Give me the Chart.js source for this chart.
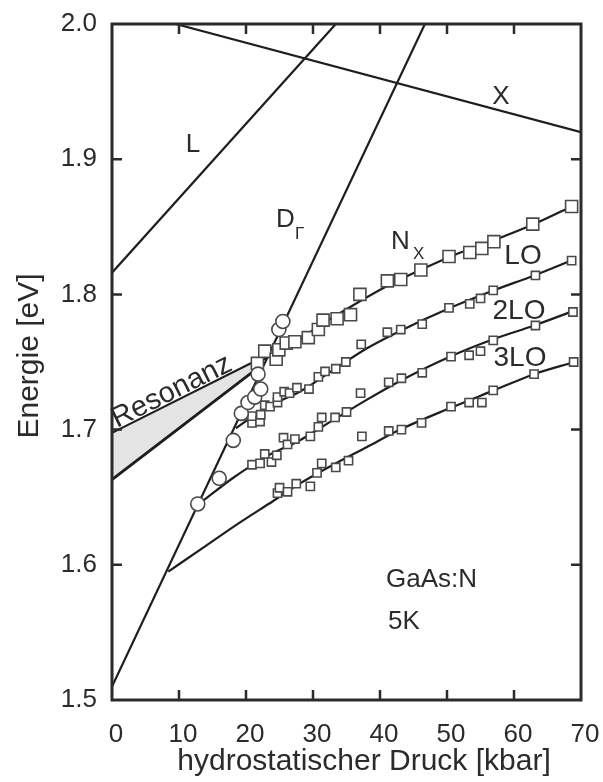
<!DOCTYPE html>
<html>
<head>
<meta charset="utf-8">
<script src="https://cdn.jsdelivr.net/npm/chart.js@4.4.1/dist/chart.umd.min.js"></script>
<style>
  html, body { margin: 0; padding: 0; background: #fff; }
</style>
</head>
<body>
<canvas id="grafico" width="603" height="782"></canvas>
<script>
// Achsen: Druck in kbar, Energie in eV
const druckTicks = [0, 10, 20, 30, 40, 50, 60, 70];
const energieTicks = [1.5, 1.6, 1.7, 1.8, 1.9, 2.0];

// Bandkanten als Geraden
const lDruck = [0, 33.4];
const lEnergie = [1.816, 2.0];
const xDruck = [9.5, 70];
const xEnergie = [2.0, 1.92];
const dGammaDruck = [0, 46.7];
const dGammaEnergie = [1.51, 2.0];

// Resonanzbereich (grau hinterlegt)
const resDruck = [0, 21.1];
const resOben = [1.6975, 1.750];
const resUnten = [1.663, 1.743];

// Messpunkte D_Gamma (Kreise)
const gammaDruck = [12.8, 16.0, 18.1, 19.3, 20.3, 21.3, 22.2, 21.8, 24.9, 25.5];
const gammaEnergie = [1.645, 1.664, 1.692, 1.712, 1.720, 1.724, 1.730, 1.741, 1.774, 1.780];

// Messpunkte N_X und Phononenrepliken
const nxDruck = [21.7, 22.8, 24.5, 24.9, 26.0, 27.3, 29.3, 30.8, 31.5, 33.6, 35.6, 37.0, 41.1, 43.1, 46.1, 50.3, 53.4, 55.2, 57.0, 62.8, 68.6];
const nxEnergie = [1.749, 1.758, 1.752, 1.759, 1.764, 1.765, 1.768, 1.774, 1.781, 1.782, 1.785, 1.800, 1.810, 1.811, 1.818, 1.828, 1.831, 1.834, 1.839, 1.852, 1.865];
const loDruck = [20.9, 20.9, 22.1, 22.2, 22.8, 23.6, 24.7, 24.7, 25.7, 26.5, 27.6, 29.4, 30.8, 31.8, 33.4, 34.9, 37.2, 41.1, 43.1, 46.3, 50.3, 53.4, 55.0, 56.9, 63.2, 68.6];
const loEnergie = [1.705, 1.710, 1.706, 1.711, 1.718, 1.717, 1.720, 1.724, 1.728, 1.727, 1.731, 1.730, 1.739, 1.743, 1.745, 1.750, 1.763, 1.772, 1.774, 1.778, 1.790, 1.793, 1.797, 1.803, 1.814, 1.825];
const lo2Druck = [20.9, 22.1, 22.8, 23.8, 24.6, 25.6, 26.2, 27.3, 29.6, 30.8, 31.3, 33.3, 35.0, 37.1, 41.3, 43.2, 46.3, 50.6, 53.3, 55.0, 56.9, 63.2, 68.8];
const lo2Energie = [1.674, 1.675, 1.682, 1.676, 1.681, 1.694, 1.689, 1.693, 1.695, 1.702, 1.709, 1.709, 1.713, 1.727, 1.735, 1.738, 1.742, 1.754, 1.755, 1.758, 1.766, 1.777, 1.787];
const lo3Druck = [24.7, 25.0, 26.2, 27.5, 29.6, 30.6, 31.3, 33.4, 35.3, 37.3, 41.3, 43.2, 46.2, 50.6, 53.3, 55.2, 56.9, 63.0, 68.9];
const lo3Energie = [1.653, 1.657, 1.654, 1.660, 1.658, 1.668, 1.675, 1.672, 1.677, 1.695, 1.699, 1.700, 1.705, 1.717, 1.720, 1.720, 1.729, 1.741, 1.750];

// Ausgleichskurven
const nxKurveDruck = [21.5, 25, 28, 32, 36, 41, 46, 51, 57, 63, 69];
const nxKurveEnergie = [1.749, 1.758, 1.767, 1.780, 1.792, 1.806, 1.818, 1.829, 1.840, 1.852, 1.866];
const loKurveDruck = [18.5, 22, 25, 28, 33, 38, 43, 50, 57, 63, 69];
const loKurveEnergie = [1.701, 1.713, 1.721, 1.728, 1.744, 1.760, 1.773, 1.789, 1.803, 1.814, 1.826];
const lo2KurveDruck = [13.5, 18, 23, 28, 33, 38, 43, 50, 57, 63, 69];
const lo2KurveEnergie = [1.647, 1.664, 1.680, 1.692, 1.707, 1.722, 1.736, 1.753, 1.767, 1.777, 1.788];
const lo3KurveDruck = [8.4, 14, 19, 24, 28, 33, 38, 43, 50, 57, 63, 69];
const lo3KurveEnergie = [1.595, 1.614, 1.631, 1.647, 1.660, 1.674, 1.687, 1.700, 1.715, 1.729, 1.741, 1.750];

const SCHRIFT = '"Liberation Sans", Arial, sans-serif';
const TEXTFARBE = '#2b2b2b';
const LINIE = '#1e1e1e';
const MARKER = '#4a4a4a';

function punkte(druck, energie) {
  return druck.map((p, i) => ({ x: p, y: energie[i] }));
}

function gerade(druck, energie, breite = 2.2) {
  return {
    data: punkte(druck, energie),
    showLine: true,
    borderColor: LINIE,
    borderWidth: breite,
    pointRadius: 0,
    fill: false,
    order: 5
  };
}

function kurve(druck, energie) {
  return {
    data: punkte(druck, energie),
    showLine: true,
    borderColor: LINIE,
    borderWidth: 2.2,
    pointRadius: 0,
    cubicInterpolationMode: 'monotone',
    fill: false,
    order: 4
  };
}

function marker(druck, energie, stil, radius) {
  return {
    data: punkte(druck, energie),
    showLine: false,
    pointStyle: stil,
    pointRadius: radius,
    pointBackgroundColor: '#ffffff',
    pointBorderColor: MARKER,
    pointBorderWidth: 1.6,
    order: 1
  };
}

// Rahmen, Ticks nach innen und Beschriftungen im Diagramm
const rahmenPlugin = {
  id: 'rahmen',
  afterDraw(chart) {
    const { ctx, chartArea: a, scales: { x, y } } = chart;
    ctx.save();
    ctx.strokeStyle = '#2b2b2b';
    ctx.lineWidth = 2.5;
    ctx.beginPath();
    druckTicks.slice(1, -1).forEach(p => {
      const px = x.getPixelForValue(p);
      ctx.moveTo(px, a.bottom); ctx.lineTo(px, a.bottom - 10);
      ctx.moveTo(px, a.top); ctx.lineTo(px, a.top + 10);
    });
    energieTicks.slice(1, -1).forEach(e => {
      const py = y.getPixelForValue(e);
      ctx.moveTo(a.left, py); ctx.lineTo(a.left + 10, py);
      ctx.moveTo(a.right, py); ctx.lineTo(a.right - 10, py);
    });
    ctx.stroke();
    ctx.lineWidth = 3;
    ctx.strokeRect(a.left, a.top, a.right - a.left, a.bottom - a.top);

    ctx.fillStyle = TEXTFARBE;
    ctx.textAlign = 'center';
    ctx.textBaseline = 'middle';
    ctx.font = '26px ' + SCHRIFT;
    ctx.fillText('L', 193, 145);
    ctx.fillText('X', 501, 97);
    ctx.font = '28px ' + SCHRIFT;
    ctx.fillText('LO', 523, 256);
    ctx.fillText('2LO', 519, 311);
    ctx.fillText('3LO', 520, 358);

    ctx.textAlign = 'left';
    ctx.font = '26px ' + SCHRIFT;
    ctx.fillText('D', 276, 220);
    ctx.fillText('N', 391, 242);
    ctx.fillText('GaAs:N', 386, 580);
    ctx.fillText('5K', 388, 622);
    ctx.font = '17px ' + SCHRIFT;
    ctx.fillText('\u0393', 295, 234);
    ctx.fillText('X', 413, 254);

    // Beschriftung entlang der oberen Resonanzkante
    const x0 = x.getPixelForValue(resDruck[0]), y0 = y.getPixelForValue(resOben[0]);
    const x1 = x.getPixelForValue(resDruck[1]), y1 = y.getPixelForValue(resOben[1]);
    ctx.save();
    ctx.translate(x0 + 5, y0 - 5);
    ctx.rotate(Math.atan2(y1 - y0, x1 - x0));
    ctx.font = '29px ' + SCHRIFT;
    ctx.textBaseline = 'alphabetic';
    ctx.fillText('Resonanz', 0, 0);
    ctx.restore();

    // Achsentitel
    ctx.font = '30px ' + SCHRIFT;
    ctx.textAlign = 'center';
    ctx.fillText('hydrostatischer Druck [kbar]', 364, 762);
    ctx.save();
    ctx.translate(30, 356);
    ctx.rotate(-Math.PI / 2);
    ctx.fillText('Energie [eV]', 0, 0);
    ctx.restore();
    ctx.restore();
  }
};

new Chart(document.getElementById('grafico'), {
  type: 'scatter',
  data: {
    datasets: [
      marker(gammaDruck, gammaEnergie, 'circle', 7),
      marker(nxDruck, nxEnergie, 'rect', 8.5),
      marker(loDruck, loEnergie, 'rect', 5.8),
      marker(lo2Druck, lo2Energie, 'rect', 5.8),
      marker(lo3Druck, lo3Energie, 'rect', 5.8),
      kurve(nxKurveDruck, nxKurveEnergie),
      kurve(loKurveDruck, loKurveEnergie),
      kurve(lo2KurveDruck, lo2KurveEnergie),
      kurve(lo3KurveDruck, lo3KurveEnergie),
      gerade(lDruck, lEnergie),
      gerade(xDruck, xEnergie),
      gerade(dGammaDruck, dGammaEnergie),
      Object.assign(gerade(resDruck, resOben, 2), { fill: '+1', backgroundColor: '#e4e4e4', order: 7 }),
      Object.assign(gerade(resDruck, resUnten, 2.8), { order: 6 })
    ]
  },
  options: {
    responsive: false,
    animation: false,
    layout: { padding: { left: 0, right: 22, top: 24, bottom: 0 } },
    plugins: {
      legend: { display: false },
      tooltip: { enabled: false }
    },
    scales: {
      x: {
        type: 'linear',
        min: 0, max: 70,
        afterFit: s => { s.height = 82; s.paddingLeft = 0; s.paddingRight = 0; },
        afterBuildTicks: s => { s.ticks = druckTicks.map(v => ({ value: v })); },
        grid: { display: false, drawTicks: false },
        border: { display: false },
        ticks: {
          font: { family: SCHRIFT, size: 26 },
          color: TEXTFARBE,
          padding: 19,
          labelOffset: 4,
          maxRotation: 0,
          callback: v => String(v)
        }
      },
      y: {
        type: 'linear',
        min: 1.5, max: 2.0,
        afterFit: s => { s.width = 112; s.paddingTop = 0; s.paddingBottom = 0; },
        afterBuildTicks: s => { s.ticks = energieTicks.map(v => ({ value: v })); },
        grid: { display: false, drawTicks: false },
        border: { display: false },
        ticks: {
          font: { family: SCHRIFT, size: 26 },
          color: TEXTFARBE,
          padding: 15,
          callback: v => v.toFixed(1)
        }
      }
    }
  },
  plugins: [rahmenPlugin]
});
</script>
</body>
</html>
